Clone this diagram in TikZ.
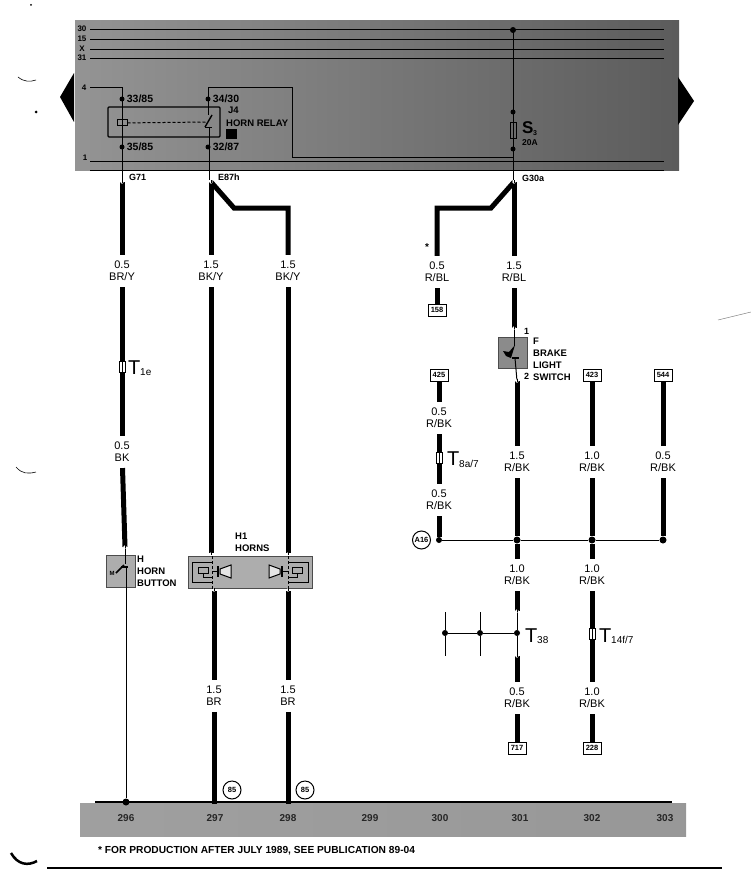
\documentclass[tikz,border=0pt]{standalone}
\usepackage{fontspec}
\setmainfont{Liberation Sans}
\usetikzlibrary{positioning}
\definecolor{panelleft}{gray}{0.58}
\definecolor{panelright}{gray}{0.36}
\definecolor{bandgray}{gray}{0.66}
\definecolor{boxgray}{gray}{0.68}
\tikzset{
  wire/.style={line width=5pt},
  thinwire/.style={line width=1pt},
  busline/.style={line width=1pt},
  gauge/.style={font=\fontsize{11}{12}\selectfont,align=center,inner xsep=1pt,inner ysep=6pt},
  partlabel/.style={font=\bfseries\fontsize{9.5}{12}\selectfont,align=left,anchor=west,inner sep=0pt},
  pinlabel/.style={font=\bfseries\fontsize{10.5}{11}\selectfont,inner sep=0pt,anchor=west},
  buslabel/.style={font=\bfseries\fontsize{8}{9}\selectfont,inner sep=0pt},
  refbox/.style={draw,line width=1pt,fill=white,inner sep=1.5pt,font=\bfseries\fontsize{7.5}{8}\selectfont,minimum width=18pt,minimum height=12pt},
  refcircle/.style={draw,circle,line width=1pt,inner sep=0pt,minimum size=18pt,font=\bfseries\fontsize{7.5}{8}\selectfont},
  dotnode/.style={circle,fill=black,inner sep=0pt,minimum size=#1},
  dotnode/.default=6pt,
  terminal/.style={draw,line width=0.8pt,fill=white,inner sep=0pt,minimum width=6pt,minimum height=11pt,
    path picture={\draw[line width=0.8pt] (path picture bounding box.north) -- (path picture bounding box.south);}},
  bigT/.style={font=\fontsize{20}{20}\selectfont,inner sep=0pt,anchor=west},
  subT/.style={font=\fontsize{10}{10}\selectfont,inner sep=0pt,anchor=west},
  band/.style={font=\bfseries\fontsize{10}{10}\selectfont,text=black!85,inner sep=0pt},
}
\begin{document}
\begin{tikzpicture}[x=1pt,y=-1pt]
  \useasboundingbox (0,0) rectangle (751,872);

  % ground band
  \fill[left color=bandgray!110!white,right color=bandgray!90!black] (80,803) rectangle (686,836);
  \draw[line width=1.4pt] (95,802) -- (672,802);
  \foreach \x/\t in {126/296,215/297,288/298,370/299,440/300,520/301,592/302,665/303}
    \node[band] at (\x,818) {\t};

  % fuse/relay panel
  \fill[left color=panelleft,right color=panelright] (75,21) rectangle (679,170);
  \fill[black] (74,73) -- (60,97) -- (74,122) -- cycle;
  \fill[black] (678,77) -- (694,101) -- (678,125) -- cycle;
  \foreach \y/\t in {29/30,39/15,49/X,58/31}{
    \draw[busline] (90,\y+1) -- (664,\y+1);
    \node[buslabel] at (82,\y) {\t};
  }
  \node[buslabel] at (84,88) {4};
  \node[buslabel] at (85,158) {1};
  \draw[busline] (90,161) -- (664,161);
  \draw[busline] (90,170) -- (664,170);

  % horn relay
  \draw[line width=1.2pt,rounded corners=1pt] (108,107) rectangle (220,137);
  \node[draw,line width=1pt,minimum width=10pt,minimum height=6pt,inner sep=0pt] (coil) at (122,123) {};
  \coordinate (feedL) at (90,88);
  \coordinate (feedC) at (122,88);
  \coordinate (g71top) at (122,180);
  \draw[thinwire] (feedL) -- (feedC) -- (g71top);
  \coordinate (swtop) at (208,88);
  \coordinate (swA) at (208,115);
  \coordinate (swB) at (205,127);
  \coordinate (swC) at (209,127);
  \coordinate (e87top) at (209,180);
  \coordinate (swE) at (292,88);
  \coordinate (swF) at (292,157);
  \coordinate (g30bus) at (513,157);
  \draw[thinwire] (swA) -- (swtop) -- (swE) -- (swF) -- (g30bus);
  \draw[thinwire] (swC) -- (e87top);
  \draw[line width=1.4pt] (swB) -- (212,115);
  \draw[line width=1.4pt] (205,127.5) -- (212,127.5);
  \draw[line width=1pt,densely dashed] (coil) -- (206,122);
  \node[dotnode=5pt] (d3385) at (122,99) {};
  \node[dotnode=5pt] (d3585) at (122,147) {};
  \node[dotnode=5pt] (d3430) at (208,99) {};
  \node[dotnode=5pt] (d3287) at (208,147) {};
  \node[pinlabel,right=2pt of d3385] {33/85};
  \node[pinlabel,right=2pt of d3585] {35/85};
  \node[pinlabel,right=2pt of d3430] {34/30};
  \node[pinlabel,right=2pt of d3287] {32/87};
  \node[pinlabel,font=\bfseries\fontsize{9.5}{11}\selectfont] at (228,110) {J4};
  \node[pinlabel,font=\bfseries\fontsize{9.5}{11}\selectfont] at (226,123) {HORN RELAY};
  \fill[black] (226,129) rectangle (237,139);

  % fuse S3
  \coordinate (g30top) at (513,30);
  \coordinate (g30low) at (513,180);
  \node[dotnode=6pt] at (g30top) {};
  \draw[thinwire] (g30top) -- (g30low);
  \node[draw,line width=0.8pt,minimum width=6pt,minimum height=16pt,inner sep=0pt] (fuse) at (513,130) {};
  \node[dotnode=5pt] at (513,112) {};
  \node[dotnode=5pt] at (513,149) {};
  \node[inner sep=0pt,anchor=west,font=\bfseries\fontsize{17}{17}\selectfont] (fuseS) at (522,128) {S};
  \node[inner sep=0pt,anchor=west,font=\bfseries\fontsize{7}{7}\selectfont] at (533,133) {3};
  \node[inner sep=0pt,anchor=west,font=\bfseries\fontsize{8.5}{9}\selectfont] at (522,143) {20A};

  \node[pinlabel,font=\bfseries\fontsize{9}{10}\selectfont] at (129,177) {G71};
  \node[pinlabel,font=\bfseries\fontsize{9}{10}\selectfont] at (218,177) {E87h};
  \node[pinlabel,font=\bfseries\fontsize{9}{10}\selectfont] at (522,178) {G30a};

  % column 296
  \node[gauge] (a1) at (122,271) {0.5\\BR/Y};
  \node[terminal] (t1e) at (122,367) {};
  \node[bigT] at (128,368) {T};
  \node[subT] at (140,372) {1e};
  \node[gauge] (a2) at (122,452) {0.5\\BK};
  \node[fill=boxgray,draw=black!70,minimum width=29pt,minimum height=32pt,inner sep=0pt] (hbtn) at (120.5,571) {};
  \node[partlabel] at (137,571) {H\\HORN\\BUTTON};
  \coordinate (a3) at (125,547);
  \coordinate (g71w) at (122,182);
  \draw[wire] (g71w) -- (a1);
  \draw[wire] (a1) -- (t1e);
  \draw[wire] (t1e) -- (a2);
  \draw[wire] (a2) -- (a3);
  \draw[thinwire] (a3) -- (125,564);
  \draw[line width=1.6pt] (116,573) -- (124,565);
  \draw[line width=1.4pt] (121,567) -- (128,567);
  \node[font=\bfseries\fontsize{6}{6}\selectfont,inner sep=0pt] at (112,573) {M};
  \node[dotnode=7pt] (g296) at (126,802) {};
  \draw[thinwire] (126,567) -- (g296);

  % columns 297, 298
  \coordinate (b0) at (211,182);
  \coordinate (bj) at (234,208);
  \coordinate (bk) at (288,208);
  \node[gauge] (b1) at (211,271) {1.5\\BK/Y};
  \node[gauge] (c1) at (288,271) {1.5\\BK/Y};
  \node[fill=boxgray,draw=black!70,minimum width=124pt,minimum height=32pt,inner sep=0pt] (horns) at (250,572) {};
  \node[partlabel] at (235,542) {H1\\HORNS};
  \coordinate (b2) at (211,553);
  \coordinate (c2) at (288,553);
  \draw[wire] (b0) -- (b1);
  \draw[wire,line join=miter] (b0) -- (bj) -- (bk) -- (c1);
  \draw[wire] (b1) -- (b2);
  \draw[wire] (c1) -- (c2);
  \foreach \s/\x/\h in {1/212/218,-1/288/282}{
    \draw[thinwire,densely dashed] (\x,556) -- (\x,589);
    % outer loop and coil
    \draw[line width=1pt] (\x,562) -- (\x-\s*20,562) -- (\x-\s*20,582) -- (\x,582);
    \draw[line width=1pt] (\x-\s*14,567) rectangle (\x-\s*4,573);
    \draw[line width=1pt] (\x-\s*9,573) -- (\x-\s*9,577) -- (\x,577);
    % horn
    \draw[line width=1pt] (\x,571) -- (\h,571);
    \draw[line width=1.4pt] (\h,566) -- (\h,577);
    \draw[line width=1pt,fill=white!80!gray] (\h+\s*2,569) -- (\h+\s*13,565) -- (\h+\s*13,578) -- (\h+\s*2,574) -- cycle;
  }
  \node[gauge] (b3) at (214,696) {1.5\\BR};
  \node[gauge] (c3) at (288,696) {1.5\\BR};
  \coordinate (b4) at (214,804);
  \coordinate (c4) at (288,804);
  \coordinate (b5) at (214,591);
  \coordinate (c5) at (288,591);
  \draw[wire] (b5) -- (b3);
  \draw[wire] (c5) -- (c3);
  \draw[wire] (b3) -- (b4);
  \draw[wire] (c3) -- (c4);
  \node[refcircle] at (232,790) {85};
  \node[refcircle] at (305,790) {85};

  % columns 300, 301
  \coordinate (d0) at (514,182);
  \coordinate (dj) at (491,208);
  \coordinate (dk) at (437,208);
  \node[gauge] (e1) at (437,272) {0.5\\R/BL};
  \node[gauge] (d1) at (514,272) {1.5\\R/BL};
  \node[font=\bfseries\fontsize{10}{10}\selectfont,inner sep=0pt] at (427,247) {*};
  \draw[wire] (d0) -- (d1);
  \draw[wire] (d0) -- (dj) -- (dk) -- (e1);
  \node[refbox] (b158) at (437,310) {158};
  \draw[wire] (e1) -- (b158);
  \coordinate (d2) at (514,328);
  \draw[wire] (d1) -- (d2);
  \node[fill=boxgray!80!black,draw=black!70,minimum width=29pt,minimum height=31pt,inner sep=0pt] (fbox) at (512.5,352.5) {};
  \node[partlabel] at (533,359) {F\\BRAKE\\LIGHT\\SWITCH};
  \node[pinlabel,font=\bfseries\fontsize{9}{10}\selectfont] at (524,331) {1};
  \node[pinlabel,font=\bfseries\fontsize{9}{10}\selectfont] at (524,376) {2};
  \coordinate (d3) at (517,381);
  \draw[thinwire] (d2) -- (514,346);
  \fill (503,351) -- (509,352) -- (515,345) -- (511,358) -- (506,356) -- cycle;
  \draw[line width=1.4pt] (512,358) -- (519,358);
  \draw[thinwire] (515,358) -- (d3);
  \node[gauge] (d4) at (517,462) {1.5\\R/BK};
  \draw[wire] (d3) -- (d4);
  \node[dotnode=7pt] (n301) at (517,540) {};
  \draw[wire] (d4) -- (n301);
  \node[gauge] (d5) at (517,575) {1.0\\R/BK};
  \draw[wire] (n301) -- (d5);
  \node[dotnode=6pt] (t38) at (517,633) {};
  \node[bigT] at (525,636) {T};
  \node[subT] at (537,640) {38};
  \coordinate (d6) at (517,611);
  \coordinate (d7) at (517,656);
  \draw[wire] (d5) -- (d6);
  \draw[thinwire] (d6) -- (t38);
  \draw[thinwire] (t38) -- (d7);
  \node[gauge] (d8) at (517,698) {0.5\\R/BK};
  \draw[wire] (d7) -- (d8);
  \node[refbox] (b717) at (517,748) {717};
  \draw[wire] (d8) -- (b717);
  \node[dotnode=6pt] (s1) at (480,633) {};
  \node[dotnode=6pt] (s2) at (445,633) {};
  \draw[thinwire] (t38) -- (s1) -- (s2);
  \draw[thinwire] (445,612) -- (s2) -- (445,656);
  \draw[thinwire] (480,612) -- (s1) -- (480,656);

  % splice A16
  \node[refcircle] (a16) at (421.5,540) {A16};
  \node[dotnode=6pt] (n300) at (439,540) {};
  \node[dotnode=7pt] (n302) at (592,540) {};
  \node[dotnode=7pt] (n303) at (663,540) {};
  \draw[thinwire] (n300) -- (n301) -- (n302) -- (n303);

  % column 425
  \node[refbox] (b425) at (439,375) {425};
  \node[gauge] (f1) at (439,418) {0.5\\R/BK};
  \node[terminal] (t8a) at (439,458) {};
  \node[bigT] at (447,459) {T};
  \node[subT] at (459,464) {8a/7};
  \node[gauge] (f2) at (439,500) {0.5\\R/BK};
  \draw[wire] (b425) -- (f1);
  \draw[wire] (f1) -- (t8a);
  \draw[wire] (t8a) -- (f2);
  \draw[wire] (f2) -- (n300);

  % column 423
  \node[refbox] (b423) at (592,375) {423};
  \node[gauge] (g1) at (592,462) {1.0\\R/BK};
  \node[gauge] (g2) at (592,575) {1.0\\R/BK};
  \node[terminal] (t14) at (592,634) {};
  \node[bigT] at (599,636) {T};
  \node[subT] at (611,640) {14f/7};
  \node[gauge] (g3) at (592,698) {1.0\\R/BK};
  \node[refbox] (b228) at (592,748) {228};
  \draw[wire] (b423) -- (g1);
  \draw[wire] (g1) -- (n302);
  \draw[wire] (n302) -- (g2);
  \draw[wire] (g2) -- (t14);
  \draw[wire] (t14) -- (g3);
  \draw[wire] (g3) -- (b228);

  % column 544
  \node[refbox] (b544) at (663,375) {544};
  \node[gauge] (h1) at (663,462) {0.5\\R/BK};
  \draw[wire] (b544) -- (h1);
  \draw[wire] (h1) -- (n303);

  % open wire ends
  \foreach \x/\y in {122/182,211/182,514/182,125/547,514/328,517/381,517/611,517/656,211/554,288/554,214/590,288/590}{
    \fill[white] (\x,\y) circle (1.8);
    \draw[line width=0.8pt] (\x,\y-2) -- (\x,\y+1);
  }

  % footnote and rule
  \node[inner sep=0pt,anchor=west,font=\bfseries\fontsize{10.2}{11}\selectfont] at (98,851) {* FOR PRODUCTION AFTER JULY 1989, SEE PUBLICATION 89-04};
  \draw[line width=2pt] (47,868) -- (722,868);

  % scan marks
  \draw[line width=0.6pt] (18,77) .. controls (24,82) and (30,82) .. (36,80);
  \draw[line width=0.6pt] (16,467) .. controls (22,474) and (28,474) .. (36,472);
  \draw[line width=2.5pt] (11,853) .. controls (18,865) and (28,866) .. (37,861);
  \fill (36,112) circle (1.5);
  \fill (31,5) circle (1);
  \draw[line width=0.5pt,gray] (718,320) -- (751,312);
\end{tikzpicture}
\end{document}
